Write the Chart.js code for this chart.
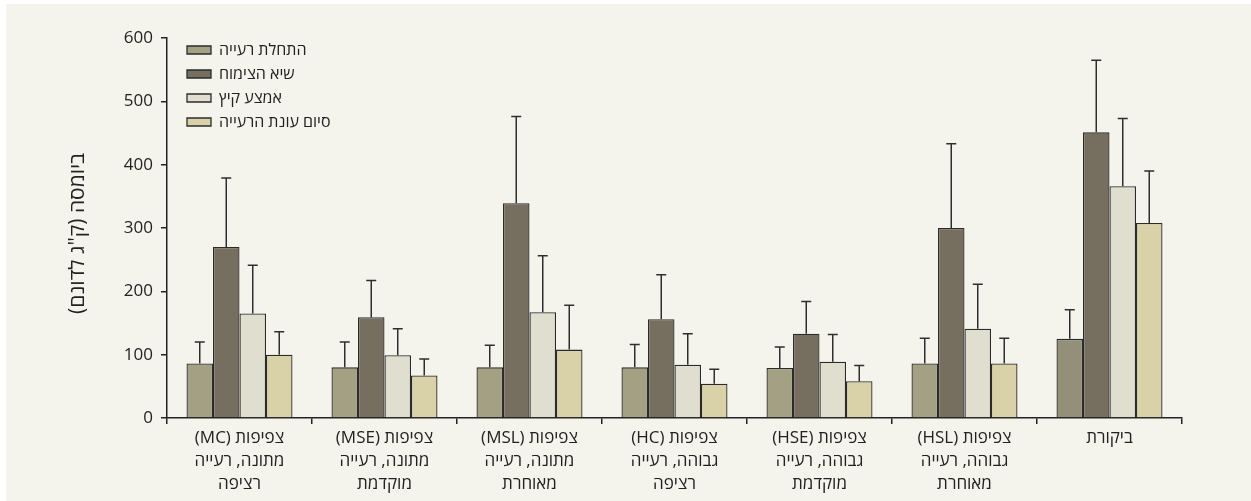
<!DOCTYPE html>
<html>
<head>
<meta charset="utf-8">
<script src="https://cdn.jsdelivr.net/npm/chart.js@4"></script>
<style>
  body { margin: 0; background: #ffffff; }
  #wrap { width: 1251px; height: 501px; position: relative; }
  #c { position: absolute; left: 6px; top: 4px; background: #f4f4ec; direction: rtl; }
</style>
</head>
<body>
<div id="wrap"><canvas id="c" width="1245" height="497"></canvas></div>
<script>
const categories = [
  ['צפיפות (MC)', 'מתונה, רעייה', 'רציפה'],
  ['צפיפות (MSE)', 'מתונה, רעייה', 'מוקדמת'],
  ['צפיפות (MSL)', 'מתונה, רעייה', 'מאוחרת'],
  ['צפיפות (HC)', 'גבוהה, רעייה', 'רציפה'],
  ['צפיפות (HSE)', 'גבוהה, רעייה', 'מוקדמת'],
  ['צפיפות (HSL)', 'גבוהה, רעייה', 'מאוחרת'],
  ['ביקורת']
];
const seriesNames = ['התחלת רעייה', 'שיא הצימוח', 'אמצע קיץ', 'סיום עונת הרעייה'];

// mean biomass per group
const startValues = [86, 80, 80, 80, 79, 86, 125];
const peakValues  = [270, 159, 339, 156, 133, 300, 451];
const midValues   = [165, 99, 167, 84, 89, 141, 366];
const endValues   = [100, 67, 108, 54, 58, 86, 308];

// error bar heights (upper only)
const startErr = [34, 40, 35, 36, 33, 40, 46];
const peakErr  = [109, 58, 137, 70, 51, 133, 114];
const midErr   = [76, 42, 89, 49, 43, 70, 107];
const endErr   = [36, 26, 70, 23, 25, 40, 82];

const yTicks = [0, 100, 200, 300, 400, 500, 600];
// leading spaces nudge the rotated title a little lower
const yTitle = '\u00A0\u00A0ביומסה (ק"ג לדונם)';

const font = 'Open Sans, DejaVu Sans, sans-serif';

// error bars drawn from each bar's top
const errorBars = {
  id: 'errorBars',
  afterDatasetsDraw(chart) {
    const ctx = chart.ctx;
    const y = chart.scales.y;
    ctx.save();
    ctx.strokeStyle = '#2e2e2e';
    ctx.lineWidth = 1.5;
    chart.data.datasets.forEach((ds, i) => {
      const meta = chart.getDatasetMeta(i);
      meta.data.forEach((bar, j) => {
        const top = y.getPixelForValue(ds.data[j] + ds.err[j]);
        ctx.beginPath();
        ctx.moveTo(bar.x, bar.y);
        ctx.lineTo(bar.x, top);
        ctx.moveTo(bar.x - 5, top);
        ctx.lineTo(bar.x + 5, top);
        ctx.stroke();
      });
    });
    ctx.restore();
  }
};

// put legend in the top-left corner of the plot area
const legendShift = {
  id: 'legendShift',
  afterLayout(chart) {
    const area = chart.chartArea;
    chart.legend.left = area.left + 12;
    chart.legend.top = area.top - 4;
    chart.legend.bottom = area.bottom;
  }
};

const barStyle = { borderColor: '#2b2b2b', borderWidth: 1.3, barPercentage: 1, categoryPercentage: 0.731 };

new Chart(document.getElementById('c'), {
  type: 'bar',
  data: {
    labels: categories,
    datasets: [
      { label: seriesNames[0], data: startValues, err: startErr,
        backgroundColor: ['#a3a083', '#a3a083', '#a3a083', '#a3a083', '#a3a083', '#a3a083', '#938f78'], ...barStyle },
      { label: seriesNames[1], data: peakValues, err: peakErr, backgroundColor: '#766f60', ...barStyle },
      { label: seriesNames[2], data: midValues, err: midErr, backgroundColor: '#e0dece', ...barStyle },
      { label: seriesNames[3], data: endValues, err: endErr, backgroundColor: '#d9d1a8', ...barStyle }
    ]
  },
  options: {
    responsive: false,
    animation: false,
    layout: { padding: { left: 55, right: 69, top: 34, bottom: 4 } },
    plugins: {
      tooltip: { enabled: false },
      legend: {
        position: 'chartArea',
        align: 'start',
        labels: { boxWidth: 24, boxHeight: 8, padding: 8, color: '#222', font: { family: font, size: 16 } }
      }
    },
    scales: {
      x: {
        afterFit(scale) { scale.height = 79; },
        border: { color: '#222', width: 1.5 },
        grid: { drawOnChartArea: false, tickLength: 6, color: '#222', lineWidth: 1.5 },
        ticks: { color: '#222', padding: 3, maxRotation: 0, autoSkip: false, font: { family: font, size: 17, lineHeight: 1.35 } }
      },
      y: {
        min: 0,
        max: 600,
        afterFit(scale) { scale.width = 106; },
        afterBuildTicks(scale) { scale.ticks = yTicks.map(v => ({ value: v })); },
        border: { color: '#222', width: 1.5 },
        grid: { drawOnChartArea: false, tickLength: 6, color: '#222', lineWidth: 1.5 },
        ticks: { color: '#222', padding: 8, font: { family: font, size: 17 } },
        title: { display: true, text: yTitle, color: '#222', font: { family: font, size: 21 } }
      }
    }
  },
  plugins: [errorBars, legendShift]
});
</script>
</body>
</html>
